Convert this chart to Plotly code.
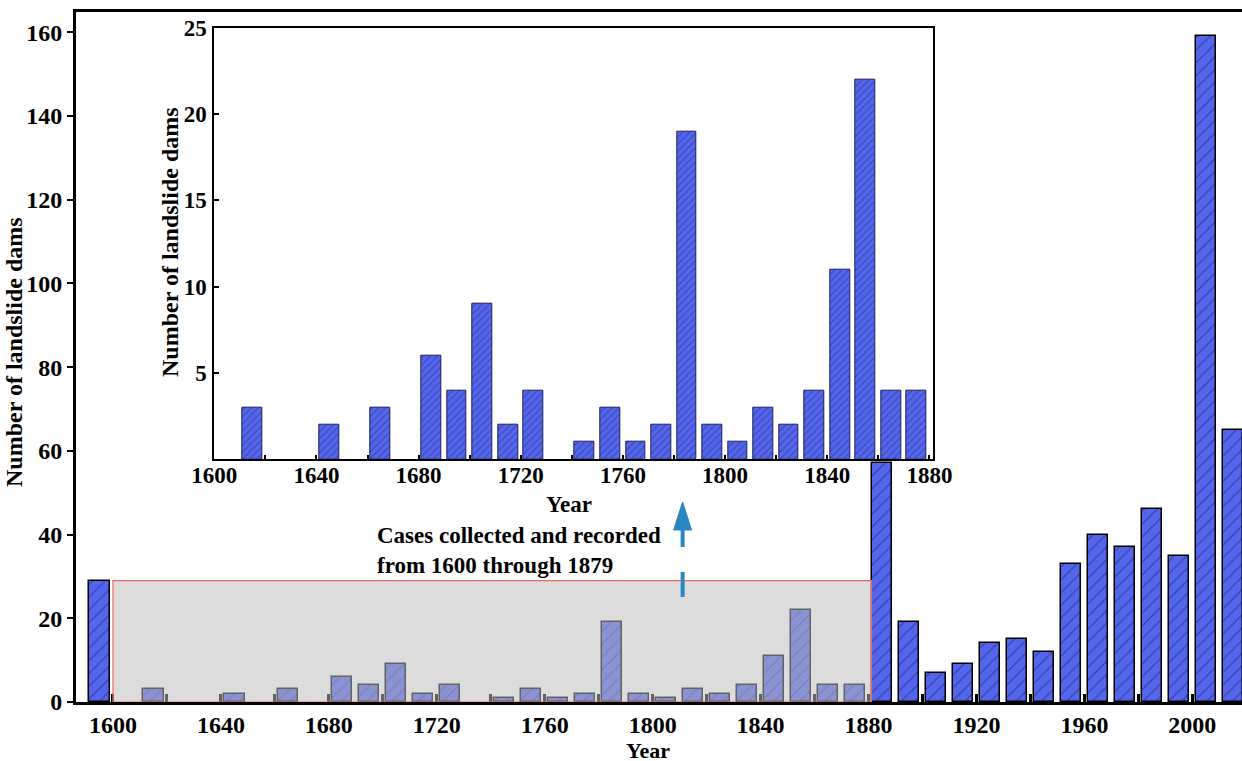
import plotly.graph_objects as go

# ---------------- data ----------------
pre_decade = [1590]
pre_count = [29]
early_decades = list(range(1600, 1880, 10))
early_counts = [0, 3, 0, 0, 2, 0, 3, 0, 6, 4, 9, 2, 4, 0, 1, 3, 1, 2, 19, 2, 1, 3, 2, 4, 11, 22, 4, 4]
modern_decades = list(range(1880, 2020, 10))
modern_counts = [57, 19, 7, 9, 14, 15, 12, 33, 40, 37, 46, 35, 159, 65]

main_ticks = list(range(1600, 2001, 40))
inset_yticks = [5, 10, 15, 20, 25]
note_text = "Cases collected and recorded<br>from 1600 through 1879"

# ---------------- geometry helpers ----------------
W, H = 1242, 761
ML, MR, MT, MB = 76, 0, 12, 59
PW, PH = W - ML - MR, H - MT - MB


def px_x(px):
    return (px - ML) / PW


def px_y(py):
    return (H - MB - py) / PH


BLUE = "#5566ee"
HATCH = "#1a1e5c"
FONT = "Liberation Serif, Times New Roman, serif"

all_dec = pre_decade + early_decades + modern_decades
all_cnt = pre_count + early_counts + modern_counts
main_x = [d + 5 for d, c in zip(all_dec, all_cnt) if c > 0]
main_y = [c for c in all_cnt if c > 0]
ins_x = [d + 5 for d, c in zip(early_decades, early_counts) if c > 0]
ins_y = [c for c in early_counts if c > 0]

fig = go.Figure()
fig.add_trace(go.Bar(
    x=main_x, y=main_y, width=7.5,
    marker=dict(color=BLUE, line=dict(color="black", width=1.5),
                pattern=dict(shape="/", fillmode="overlay", fgcolor=HATCH,
                             size=9, solidity=0.14)),
    xaxis="x", yaxis="y", showlegend=False, hoverinfo="x+y",
))
fig.add_trace(go.Bar(
    x=ins_x, y=ins_y, width=7.7,
    marker=dict(color=BLUE, line=dict(color=HATCH, width=1),
                pattern=dict(shape="/", fillmode="overlay", fgcolor=HATCH,
                             size=5, solidity=0.2)),
    xaxis="x2", yaxis="y2", showlegend=False, hoverinfo="x+y",
))

tickfont = dict(family=FONT, size=24, color="black", weight="bold")
tickfont2 = dict(family=FONT, size=23, color="black", weight="bold")

fig.update_layout(
    width=W, height=H,
    margin=dict(l=ML, r=MR, t=MT, b=MB, autoexpand=False),
    paper_bgcolor="white", plot_bgcolor="white",
    bargap=0,
    xaxis=dict(
        domain=[0, 1], range=[1586.3, 2018.4], anchor="y",
        tickvals=main_ticks, ticks="inside", ticklen=8, tickwidth=3, tickcolor="black",
        minor=dict(dtick=20, tick0=1600, ticks="inside", ticklen=8, tickwidth=3, tickcolor="black"),
        showline=True, linewidth=3, linecolor="black", mirror=True,
        showgrid=False, zeroline=False, tickfont=tickfont, ticklabelstandoff=-1,
        automargin=False,
    ),
    yaxis=dict(
        domain=[0, 1], range=[0, 164.85], anchor="x",
        tickvals=list(range(0, 161, 20)), ticks="outside", ticklen=6, tickwidth=2, tickcolor="black",
        showline=True, linewidth=3, linecolor="black",
        showgrid=False, zeroline=False, tickfont=tickfont, automargin=False,
    ),
    xaxis2=dict(
        domain=[px_x(214.3), px_x(932.7)], range=[1600, 1881.3], anchor="y2",
        tickvals=list(range(1600, 1881, 40)), ticks="inside", ticklen=4, tickwidth=2, tickcolor="black",
        minor=dict(dtick=20, tick0=1600, ticks="inside", ticklen=4, tickwidth=2, tickcolor="black"),
        showline=True, linewidth=2, linecolor="black", mirror=True,
        showgrid=False, zeroline=False, tickfont=tickfont2, ticklabelstandoff=-6,
        automargin=False,
    ),
    yaxis2=dict(
        domain=[px_y(459.3), px_y(27.7)], range=[0, 25], anchor="x2",
        tickvals=inset_yticks, ticks="inside", ticklen=5, tickwidth=2, tickcolor="black",
        showline=True, linewidth=2, linecolor="black", mirror=True,
        showgrid=False, zeroline=False, tickfont=tickfont2, ticklabelstandoff=1,
        automargin=False,
    ),
)

# grey overlay marking the period shown in the inset
fig.add_shape(type="rect", xref="x", yref="y", x0=1600, x1=1881.1, y0=0, y1=pre_count[0],
              fillcolor="rgba(188,188,188,0.52)", line=dict(color="#ee6666", width=1.2),
              layer="above")

# dashed arrow
fig.add_shape(type="line", xref="x", yref="y", x0=1811.1, x1=1811.1, y0=25.1, y1=41.1,
              line=dict(color="#2b87c2", width=4, dash="25px,25px"), layer="above")
fig.add_shape(type="path", xref="x", yref="y", xsizemode="pixel", ysizemode="pixel",
              xanchor=1811.1, yanchor=41.1, path="M -9,0 L 9,0 L 0,28 Z",
              fillcolor="#2b87c2", line=dict(color="#2b87c2", width=1), layer="above")

titlefont = dict(family=FONT, size=23, color="black")
ann = [
    dict(text="<b>Number of landslide dams</b>", x=px_x(14), y=px_y(352), textangle=-90, size=24),
    dict(text="<b>Year</b>", x=px_x(648), y=px_y(750), size=22),
    dict(text="<b>Number of landslide dams</b>", x=px_x(170), y=px_y(242), textangle=-90, size=24),
    dict(text="<b>Year</b>", x=px_x(569), y=px_y(504), size=23),
]
for a in ann:
    sz = a.pop("size")
    fig.add_annotation(xref="paper", yref="paper", showarrow=False,
                       font=dict(family=FONT, size=sz, color="black"),
                       xanchor="center", yanchor="middle", **a)
fig.add_annotation(xref="paper", yref="paper", x=px_x(375), y=px_y(550), text="<b>" + note_text + "</b>",
                   showarrow=False, xanchor="left", yanchor="middle", align="left", font=titlefont)

fig.write_html("out.html", config={"displayModeBar": False},
               post_script="document.body.style.margin='0';document.body.style.overflow='hidden';")
